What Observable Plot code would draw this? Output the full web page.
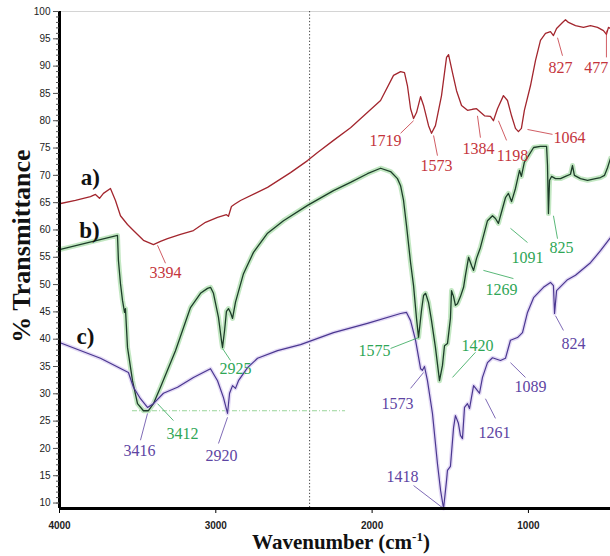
<!DOCTYPE html>
<html><head><meta charset="utf-8">
<script src="https://cdn.jsdelivr.net/npm/d3@7"></script>
<script src="https://cdn.jsdelivr.net/npm/@observablehq/plot@0.6"></script>
<style>body{margin:0;background:#fff}#chart{width:610px;height:556px}</style>
</head><body><div id="chart"></div>
<script>
// Spectrum a) (red)
const aWn = [4000,3898,3802,3770,3744,3719,3674,3642,3610,3565,3527,3463,3399,3354,3309,3226,3143,3066,2989,2932,2919,2900,2880,2842,2669,2522,2413,2349,2247,2138,1946,1863,1818,1793,1774,1754,1735,1716,1690,1671,1639,1620,1595,1556,1524,1511,1486,1460,1428,1390,1358,1332,1281,1243,1224,1198,1160,1134,1108,1083,1064,1045,1026,987,955,923,891,859,840,820,782,763,744,699,648,603,558,520,501,488,475];
const aT  = [64.8,65.4,66.1,66.5,65.8,66.7,67.6,65.4,62.6,61.0,59.9,58.1,57.3,57.9,58.4,59.2,59.9,61.4,62.3,62.8,62.5,64.3,64.7,65.4,67.8,70.5,72.7,74.2,76.4,78.7,83.7,88.3,89.0,88.8,86.4,82.2,80.4,81.5,84.4,82.8,79.1,77.7,79.1,84.6,91.6,92.1,88.8,85.5,82.8,81.9,82.1,82.2,80.9,80.8,80.0,82.2,84.6,83.7,80.9,78.6,78.0,78.6,81.9,86.4,91.0,94.7,96.0,96.3,95.6,96.9,98.0,98.5,98.0,97.4,97.1,97.4,97.1,96.5,95.8,97.1,96.9];
// Spectrum b) (green)
const bWn = [4000,3629,3623,3610,3597,3584,3578,3565,3533,3501,3463,3431,3399,3354,3258,3162,3098,3053,3034,3015,2983,2964,2957,2944,2932,2919,2906,2893,2874,2823,2759,2669,2567,2413,2247,2138,2030,1946,1882,1838,1818,1799,1780,1754,1735,1716,1703,1684,1671,1658,1639,1620,1595,1569,1550,1537,1518,1499,1492,1479,1467,1454,1435,1415,1403,1383,1364,1351,1332,1307,1262,1230,1211,1192,1173,1147,1128,1108,1083,1057,1045,1026,1006,967,923,884,878,872,865,852,827,795,763,731,718,706,667,622,571,539,513,494,475];
const bT  = [56.4,59.0,54.4,50.2,47.1,44.9,45.6,38.5,32.4,28.2,26.9,26.9,28.2,31.2,37.9,45.8,48.4,49.3,49.5,48.4,44.0,39.8,38.5,41.6,45.1,45.6,44.9,43.8,46.8,52.0,55.9,59.4,61.7,64.5,67.2,68.7,70.3,71.3,70.7,69.4,68.1,65.4,60.8,54.0,49.8,43.8,40.3,45.3,48.0,48.4,46.7,43.4,38.5,32.4,35.2,38.8,39.2,43.8,48.9,47.8,46.2,46.5,47.8,49.5,51.7,55.0,53.5,52.6,54.8,56.8,61.7,62.6,62.1,61.2,63.2,65.9,66.7,65.2,67.6,70.9,69.8,72.4,73.3,75.1,75.3,75.3,71.8,63.0,69.1,69.8,69.4,69.4,69.8,70.2,71.8,70.0,69.4,69.1,69.4,69.6,70.0,71.4,73.1];
// Spectrum c) (purple)
const cWn = [4000,3738,3559,3527,3482,3437,3399,3335,3245,3143,3034,2989,2951,2925,2912,2893,2874,2855,2797,2733,2605,2458,2247,2030,1818,1780,1754,1722,1690,1678,1665,1646,1614,1582,1562,1543,1524,1518,1499,1479,1467,1448,1435,1422,1409,1390,1377,1351,1326,1313,1294,1262,1230,1179,1147,1115,1070,1038,1006,967,904,859,840,833,820,750,699,603,539,475];
const cT  = [39.4,36.5,33.9,31.2,29.1,27.5,28.2,30.1,31.2,33.0,34.6,32.4,29.3,26.4,30.1,31.5,31.0,32.4,34.8,36.5,37.9,39.0,41.2,42.9,44.7,44.9,43.4,39.8,34.6,34.3,35.0,32.4,26.4,17.2,12.3,9.0,14.1,16.0,16.7,23.8,26.0,24.6,22.4,21.8,27.5,28.2,27.3,31.5,30.6,30.1,33.0,35.7,36.6,36.1,36.5,39.8,40.3,41.2,44.9,47.6,49.5,50.4,49.8,44.7,48.9,50.9,51.7,54.0,56.2,58.6];

// Peak labels: text, label position (wn, T), leader from (wn,T) to (wn,T), series
const peakText   = ["3394","1719","1573","1384","1198","1064","827","477",
                    "3412","2925","1575","1420","1269","1091","825",
                    "3416","2920","1573","1418","1261","1089","824"];
const peakSeries = ["a","a","a","a","a","a","a","a",
                    "b","b","b","b","b","b","b",
                    "c","c","c","c","c","c","c"];
const labelWn = [3322,1914,1588,1319,1102,737,795,566, 3213,2874,1985,1326,1172,1006,789, 3488,2964,1838,1806,1217,987,712];
const labelT  = [52.2,76.4,71.8,74.9,73.6,76.9,89.7,89.7, 22.7,34.6,37.9,38.8,49.1,54.8,56.8, 19.6,18.7,28.2,14.7,22.9,31.2,39.2];
const leadWn1 = [3373,1735,1607,1326,1192,1006,814,501, 3373,2957,1882,1339,1288,1115,840, 3437,2925,1671,1735,1275,1115,827];
const leadT1  = [57.2,80.0,77.3,80.9,80.0,78.4,95.2,96.5, 28.2,38.3,38.3,37.6,52.6,60.3,62.6, 26.4,25.7,33.9,13.2,29.1,35.7,44.3];
const leadWn2 = [3322,1818,1582,1307,1140,846,782,501, 3271,2906,1703,1486,1096,1006,814, 3482,2983,1754,1543,1211,1019,776];
const leadT2  = [53.9,77.7,73.6,76.9,76.4,77.5,91.9,91.6, 25.1,36.1,40.3,33.0,51.1,57.7,58.4, 21.5,20.9,31.0,9.0,25.5,33.0,41.6];

const seriesNames = ["a)","b)","c)"];
const seriesLabelWn = [3802,3808,3834];
const seriesLabelT = [69.6,59.9,40.5];

const yMajor = [10,15,20,25,30,35,40,45,50,55,60,65,70,75,80,85,90,95,100];
const xMajor = [4000,3000,2000,1000];
const dashedBaseline = {t: 26.9, from: 3533, to: 2170};
const dottedMarker = 2400;

const labelColor = {a:"#c4343c", b:"#2fa656", c:"#5e45a3"};

const toRows = (wn, t) => wn.map((w, i) => ({wn: w, t: t[i]}));
const A = toRows(aWn, aT), B = toRows(bWn, bT), C = toRows(cWn, cT);
const peaks = peakText.map((s, i) => ({text: s, s: peakSeries[i], wn: labelWn[i], t: labelT[i],
  x1: leadWn1[i], y1: leadT1[i], x2: leadWn2[i], y2: leadT2[i]}));
const series = seriesNames.map((s, i) => ({text: s, wn: seriesLabelWn[i], t: seriesLabelT[i]}));
const yMinor = d3.range(10, 101, 1);

const chart = Plot.plot({
  width: 610, height: 556,
  marginLeft: 59, marginRight: 0, marginTop: 11, marginBottom: 48,
  style: {background: "#fff", overflow: "visible"},
  x: {domain: [4000, 475]},
  y: {domain: [9, 100]},
  marks: [
    Plot.ruleY([100], {stroke: "#d4d4d4", strokeWidth: 1}),
    Plot.ruleX([dottedMarker], {stroke: "#444", strokeWidth: 1, strokeDasharray: "1.3,2"}),
    Plot.ruleY([dashedBaseline], {y: "t", x1: "from", x2: "to", stroke: "#9ad49a", strokeWidth: 1, strokeDasharray: "5,2,1,2"}),
    Plot.line(B, {x: "wn", y: "t", stroke: "#aedfae", strokeWidth: 5, strokeOpacity: 0.75}),
    Plot.line(C, {x: "wn", y: "t", stroke: "#ddd2f2", strokeWidth: 4, strokeOpacity: 0.8}),
    Plot.line(A, {x: "wn", y: "t", stroke: "#a3262e", strokeWidth: 1.3}),
    Plot.line(B, {x: "wn", y: "t", stroke: "#1d3d29", strokeWidth: 1.3}),
    Plot.line(C, {x: "wn", y: "t", stroke: "#4a3790", strokeWidth: 1.2}),
    Plot.link(peaks, {x1: "x1", y1: "y1", x2: "x2", y2: "y2", stroke: d => labelColor[d.s], strokeWidth: 0.8}),
    Plot.text(peaks, {x: "wn", y: "t", text: "text", fill: d => labelColor[d.s],
      fontFamily: "Liberation Serif, Times New Roman, serif", fontSize: 16}),
    Plot.text(series, {x: "wn", y: "t", text: "text", fill: "#111", fontWeight: "bold",
      fontFamily: "Liberation Serif, Times New Roman, serif", fontSize: 23}),
    Plot.ruleX([4000], {stroke: "#000", strokeWidth: 3}),
    Plot.ruleY([9], {stroke: "#000", strokeWidth: 3}),
    Plot.axisY({ticks: yMinor, tickSize: 3, tickFormat: () => "", label: null, stroke: "#555"}),
    Plot.axisY({ticks: yMajor, tickSize: 6, tickPadding: 3, label: null, fontSize: 10,
      fontFamily: "Liberation Sans, Arial, sans-serif", stroke: "#555", fill: "#222"}),
    Plot.axisX({ticks: xMajor, tickSize: 5, tickPadding: 8, label: null, fontSize: 10, fontWeight: "bold",
      fontFamily: "Liberation Sans, Arial, sans-serif", tickFormat: d => String(d), fill: "#222"})
  ]
});

const svg = d3.select(chart);
const xl = svg.append("text")
  .attr("x", 341).attr("y", 549).attr("text-anchor", "middle")
  .attr("font-family", "Liberation Serif, Times New Roman, serif")
  .attr("font-weight", "bold").attr("font-size", 21).attr("fill", "#111");
xl.append("tspan").text("Wavenumber (cm");
xl.append("tspan").attr("dy", -8).attr("font-size", 13).text("-1");
xl.append("tspan").attr("dy", 8).text(")");

svg.append("text")
  .attr("transform", "translate(30,246) rotate(-90)")
  .attr("text-anchor", "middle")
  .attr("font-family", "Liberation Serif, Times New Roman, serif")
  .attr("font-weight", "bold").attr("font-size", 26).attr("fill", "#111")
  .text("% Transmittance");

document.getElementById("chart").appendChild(chart);
</script>
</body></html>
